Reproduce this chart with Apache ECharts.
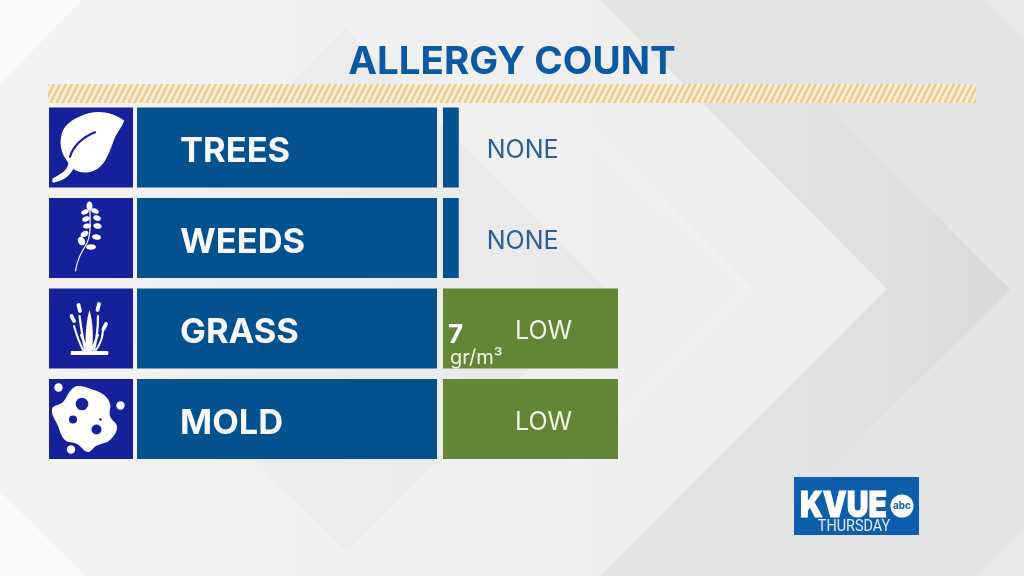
<!DOCTYPE html>
<html>
<head>
<meta charset="utf-8">
<style>
html,body{margin:0;padding:0;background:#e2e2e2;}
#chart{width:1024px;height:576px;}
</style>
<script src="https://cdn.jsdelivr.net/npm/echarts@6/dist/echarts.min.js"></script>
</head>
<body>
<div id="chart"></div>
<script>
var titleText = 'ALLERGY COUNT';
var categories = ['TREES', 'WEEDS', 'GRASS', 'MOLD'];
var levelValues = [0.09, 0.09, 1, 1];
var levelLabels = ['NONE', 'NONE', 'LOW', 'LOW'];
var countValues = [null, null, 7, null];
var countUnit = 'gr/m³';
var panelValues = [1, 1, 1, 1];
var logoName = 'KVUE';
var logoNetwork = 'abc';
var logoDay = 'THURSDAY';

var BLUE = '#04518f';
var NAVY = '#17209b';
var GREEN = '#628536';
var TEXT_BLUE = '#0b58a3';
var TOP = 102.25, ROWS_H = 362;

function hatch() {
    var c = document.createElement('canvas');
    c.width = 6; c.height = 12;
    var g = c.getContext('2d');
    g.fillStyle = '#f6efdf';
    g.fillRect(0, 0, 6, 12);
    g.strokeStyle = '#f2cb86';
    g.lineWidth = 2.4;
    [-6, 0, 6].forEach(function (o) {
        g.beginPath();
        g.moveTo(o, 12);
        g.lineTo(o + 6, 0);
        g.stroke();
    });
    return c;
}

function hgrad(stops) {
    return {
        type: 'linear', x: 0, y: 0, x2: 1, y2: 0,
        colorStops: stops.map(function (s) { return { offset: s[0], color: s[1] }; })
    };
}

function poly(points, fill) {
    return { type: 'polygon', silent: true, shape: { points: points }, style: { fill: fill } };
}

function dot(cx, cy, r, fill) {
    return { type: 'circle', silent: true, shape: { cx: cx, cy: cy, r: r }, style: { fill: fill } };
}

// graphic has no plain path type, so each svg path gets registered as a shape
var pathCount = 0;
function svgPath(d, style) {
    var name = 'iconPath' + (pathCount++);
    echarts.graphic.registerShape(name, echarts.graphic.extendPath(d));
    return { type: name, silent: true, style: style };
}

function stroke(d, w) {
    return svgPath(d, { fill: 'none', stroke: '#fff', lineWidth: w, lineCap: 'round' });
}

function leaflet(cx, cy, rx, ry, rot) {
    return { type: 'ellipse', silent: true, x: cx, y: cy, rotation: rot, shape: { cx: 0, cy: 0, rx: rx, ry: ry }, style: { fill: '#fff' } };
}

// backdrop chevrons
var backdrop = [
    poly([[720, 0], [1010, 289], [722, 576], [1024, 576], [1024, 0]], '#e4e4e4'),
    poly([[721, 0], [1010, 289], [723, 576], [560, 576], [560, 0]], hgrad([[0, '#e4e4e4'], [0.55, '#e3e3e3'], [1, '#d9d9d9']])),
    poly([[983, 0], [1024, 0], [1024, 42]], '#e8e8e8'),
    poly([[1024, 528], [1024, 576], [975, 576]], '#e8e8e8'),
    poly([[0, 0], [600, 0], [887, 289], [600, 576], [0, 576]], hgrad([[0, '#f3f3f3'], [1, '#ededed']])),
    poly([[465, 0], [755, 289], [469, 576], [453, 576], [740, 289], [450, 0]], '#f1f1f1'),
    poly([[345, 28], [607, 290], [347, 552], [85, 290]], hgrad([[0, '#f3f3f3'], [0.45, '#ececec'], [1, '#e8e8e8']])),
    poly([[0, 0], [82, 0], [0, 84]], '#fafafa'),
    poly([[0, 492], [85, 576], [0, 576]], '#f8f8f8')
];

var header = [
    { type: 'text', silent: true, x: 512, y: 62.5, style: { text: titleText, fill: TEXT_BLUE, font: '700 38.5px Inter', align: 'center', verticalAlign: 'middle' } },
    { type: 'rect', silent: true, shape: { x: 48, y: 84, width: 928, height: 19 }, style: { fill: { image: hatch(), repeat: 'repeat' } } }
];

// icons drawn over the navy squares
var leafIcon = [
    svgPath('M124.3 120.7 C117 115 108 112 98 112 C88 112 72 118 65 127 C59 135 59 150 65.7 159 C68 162 68.5 163 68.3 164 C67 170 63 173 53.3 178 C51.5 180 52 183 54 182.5 C62 181 69 177 73.3 169 C78 172 83 173 88.3 172.3 C96 171 101 167 105 160.7 C110 152 112 145 115 137.3 C118 131 122 127 124.3 120.7 Z', { fill: '#fff' }),
    svgPath('M70 156.7 C73 146 83 137 95 132.3', { fill: 'none', stroke: NAVY, lineWidth: 2.2, lineCap: 'round' })
];
var weedIcon = [
    stroke('M75.5 271 C77 260 81 253 87 243 C91 235 90 225 90 208', 1.2),
    leaflet(89.5, 206, 3, 4.5, 0),
    leaflet(85, 212, 4, 2.5, 0.4), leaflet(95, 211, 4, 2.5, -0.4),
    leaflet(86, 219, 4, 2.5, 0.3), leaflet(97, 218, 4, 2.7, -0.3),
    leaflet(87, 226, 4, 2.5, 0.2), leaflet(97.5, 226, 4.2, 2.8, -0.2),
    leaflet(84.5, 234, 4.2, 2.8, 0.5), leaflet(96.5, 237, 4.5, 2.8, -0.1),
    leaflet(81.5, 241, 3.4, 4.6, 0.5), leaflet(91, 247, 5, 2.8, 0)
];
var grassIcon = [
    { type: 'rect', silent: true, shape: { x: 70.7, y: 351, width: 37.6, height: 4, r: 1 }, style: { fill: '#fff' } },
    svgPath('M86 351 C85 335 86 322 89.5 310 C93 322 93.5 336 92 351 Z', { fill: '#fff' }),
    stroke('M85 350 C83 338 81 328 79.5 316', 2.2),
    stroke('M94 350 C97 338 98 328 98 316', 2.2),
    stroke('M83 350 C79 342 76 333 74 326', 2),
    stroke('M96 350 C101 343 103 335 103 329', 2),
    stroke('M88 351 L81 335', 2),
    stroke('M91 351 L98 335', 2),
    stroke('M78.5 305 L80 311', 3.8),
    stroke('M99 304 L97.5 310', 3.8),
    stroke('M71.5 316 L74 321', 3.8),
    stroke('M106 324 L103.5 329', 3.8)
];
var moldIcon = [
    { type: 'polygon', silent: true, shape: { smooth: 0.4, points: [[78, 386], [91, 389], [104, 395], [110, 404], [110, 416], [117, 427], [110, 440], [96, 446], [88, 452], [77, 444], [65, 440], [58, 426], [52, 409], [63, 402], [71, 390]] }, style: { fill: '#fff' } },
    dot(82, 404, 6.3, NAVY), dot(73, 419.5, 4, NAVY), dot(96.5, 429.5, 5, NAVY), dot(100.5, 419.5, 1.3, NAVY),
    dot(58.5, 387.5, 4.2, '#fff'), dot(120.5, 405.5, 4.2, '#fff'), dot(71, 449.5, 4.2, '#fff')
];

var logo = [
    { type: 'rect', silent: true, shape: { x: 794, y: 477, width: 125, height: 58 }, style: { fill: '#0e5fab' } },
    { type: 'text', silent: true, x: 800, y: 506, scaleX: 0.86, style: { text: logoName, fill: '#fff', stroke: '#fff', lineWidth: 1, font: '900 35px Inter', align: 'left', verticalAlign: 'middle' } },
    dot(902, 506, 11.5, '#fff'),
    { type: 'text', silent: true, x: 902, y: 506, style: { text: logoNetwork, fill: '#0e5fab', font: '700 10px Inter', align: 'center', verticalAlign: 'middle' } },
    { type: 'text', silent: true, x: 854, y: 527, scaleX: 0.9, style: { text: logoDay, fill: '#e4edf7', font: '400 16px "Liberation Sans Narrow", Roboto', align: 'center', verticalAlign: 'middle' } }
];

// graphic z does not pass down from a group, so set it per element
var overlay = leafIcon.concat(weedIcon, grassIcon, moldIcon, logo);
overlay.forEach(function (el) { el.z = 10; });

function rowGrid(left, width) {
    return { left: left, width: width, top: TOP, height: ROWS_H };
}
function hiddenX(i) {
    return { type: 'value', gridIndex: i, min: 0, max: 1, show: false };
}
function hiddenY(i) {
    return { type: 'category', gridIndex: i, data: categories, inverse: true, show: false };
}

var chart = echarts.init(document.getElementById('chart'));
chart.setOption({
    animation: false,
    backgroundColor: '#e4e4e4',
    grid: [rowGrid(443, 175), rowGrid(137, 300), rowGrid(49, 84)],
    xAxis: [hiddenX(0), hiddenX(1), hiddenX(2)],
    yAxis: [hiddenY(0), hiddenY(1), hiddenY(2)],
    series: [
        {
            name: 'Level',
            type: 'bar',
            xAxisIndex: 0,
            yAxisIndex: 0,
            barWidth: 80,
            z: 3,
            silent: true,
            data: levelValues.map(function (v, i) {
                var low = v >= 1;
                return {
                    value: v,
                    itemStyle: { color: low ? GREEN : BLUE },
                    label: {
                        show: true,
                        formatter: levelLabels[i],
                        position: low ? 'insideLeft' : 'right',
                        distance: low ? 72 : 28,
                        offset: [0, 3],
                        color: low ? '#f2f5ea' : '#2a5f95',
                        fontFamily: 'Inter',
                        fontWeight: 400,
                        fontSize: 25
                    }
                };
            })
        },
        {
            name: 'Count',
            type: 'bar',
            xAxisIndex: 0,
            yAxisIndex: 0,
            barWidth: 80,
            barGap: '-100%',
            z: 4,
            silent: true,
            itemStyle: { color: 'transparent' },
            data: levelValues,
            label: {
                show: true,
                position: 'insideLeft',
                distance: 5,
                offset: [0, 18],
                formatter: function (p) {
                    var n = countValues[p.dataIndex];
                    return n === null ? '' : '{n|' + n + '}\n{u|' + countUnit + '}';
                },
                rich: {
                    n: { color: '#fff', fontFamily: 'Inter', fontWeight: 700, fontSize: 26, lineHeight: 23 },
                    u: { color: '#f2f5ea', fontFamily: 'Inter', fontWeight: 400, fontSize: 20, lineHeight: 22, padding: [0, 0, 0, 2] }
                }
            }
        },
        {
            name: 'Category',
            type: 'bar',
            xAxisIndex: 1,
            yAxisIndex: 1,
            barWidth: 80,
            z: 3,
            silent: true,
            itemStyle: { color: BLUE },
            data: panelValues,
            label: {
                show: true,
                formatter: '{b}',
                position: 'insideLeft',
                distance: 43,
                offset: [0, 4.5],
                color: '#f6f8fb',
                fontFamily: 'Inter',
                fontWeight: 700,
                fontSize: 34.5
            }
        },
        {
            name: 'Icon',
            type: 'bar',
            xAxisIndex: 2,
            yAxisIndex: 2,
            barWidth: 80,
            z: 3,
            silent: true,
            itemStyle: { color: NAVY },
            data: panelValues
        }
    ],
    graphic: [
        { type: 'group', silent: true, children: backdrop.concat(header) },
        { type: 'group', silent: true, children: overlay }
    ]
});
</script>
</body>
</html>
